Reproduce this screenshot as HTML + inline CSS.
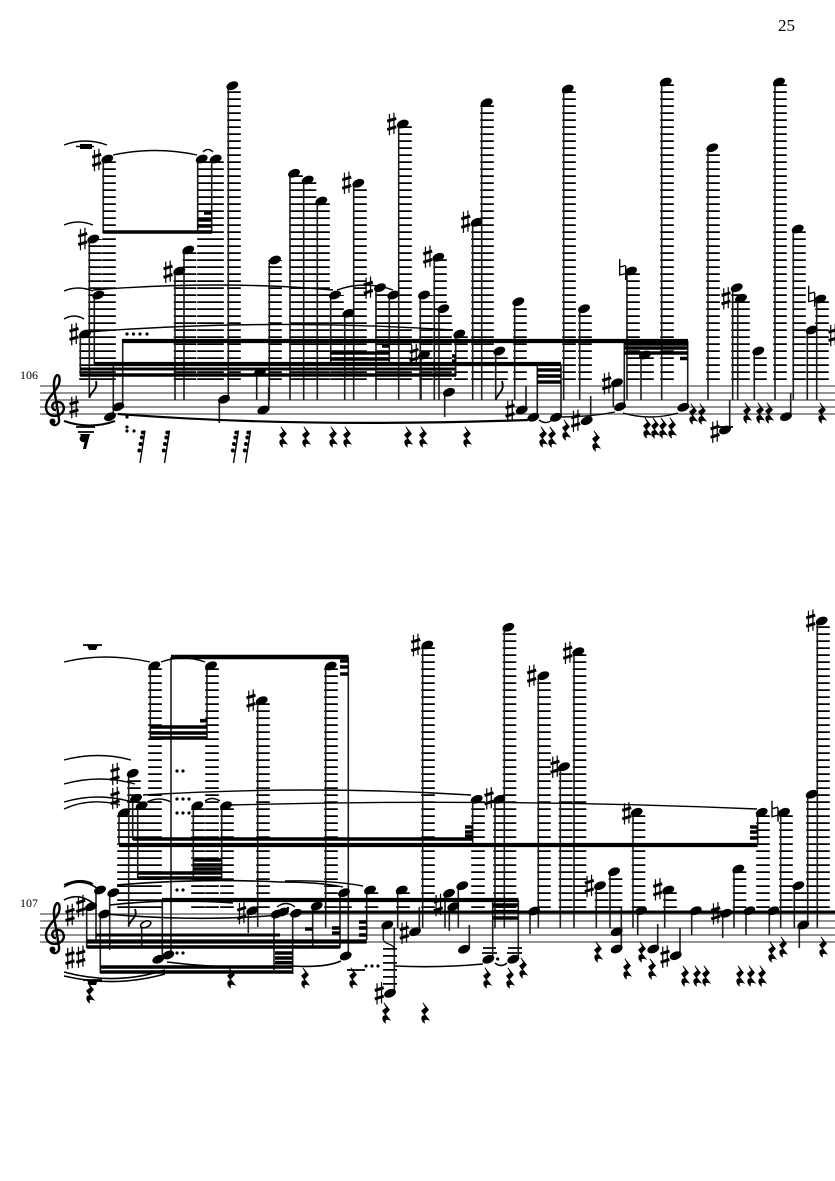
<!DOCTYPE html>
<html><head><meta charset="utf-8"><title>Score page 25</title>
<style>
html,body{margin:0;padding:0;background:#fff}
svg{display:block}
text{font-family:"Liberation Serif",serif;fill:#000}
</style></head><body>
<svg xmlns="http://www.w3.org/2000/svg" width="835" height="1181" viewBox="0 0 835 1181">
<defs>
<ellipse id="n" rx="6.2" ry="4" transform="rotate(-22)"/>
<g id="s" transform="scale(1.12)"><path d="M-2 -9V10M2 -10V9" stroke="#000" stroke-width="1.1" fill="none"/><path d="M-4 -2.5L4 -5M-4 5L4 2.5" stroke="#000" stroke-width="2.7" fill="none"/></g>
<path id="h" d="M-3 -11V5L3 3.5M3 -4V10M-3 -3L3 -4.5" stroke="#000" stroke-width="1.4" fill="none"/>
<path id="r" transform="scale(1.08)" stroke="#000" stroke-width=".7" d="M-2 -9.5L3.2 -3L-.5 1L3.8 6.5C1 5.5 -2 5.5 -.3 9.5C-4 6.5 -4 2 0 2.5L-3.2 -2L.5 -5Z"/>
<g id="f"><path d="M2.5 -16.5L-2.5 16" stroke="#000" stroke-width="1.4"/><circle cx=".3" cy="-14.5" r="2"/><circle cx="-.7" cy="-9.5" r="2"/><circle cx="-2" cy="-3" r="2"/><circle cx="-3.2" cy="3.5" r="2"/></g>
<g id="c"><path d="M1 10C-4 10 -4 3 1 2C8 1 11 8 7 13C2 18 -9 17 -9 7C-9 -3 4 -10 4.5 -19C5 -25 2 -27 0 -22C-2 -17 -1 -10 1 0L4 19C5 26 -3 27 -4 22" fill="none" stroke="#000" stroke-width="2.4"/><circle cx="-2.5" cy="21.5" r="3"/></g>
</defs>
<rect width="835" height="1181" fill="#fff"/>
<text x="778" y="31" font-size="17">25</text>
<text x="20" y="379" font-size="12">106</text>
<text x="20" y="907" font-size="12">107</text>

<!-- staff lines -->
<path d="M40 386H835M40 393H835M40 400H835M40 407H835M40 414H835M40 914H835M40 921H835M40 928H835M40 935H835M40 942H835" stroke="#6e6e6e" stroke-width="1.4" fill="none"/>
<use href="#c" x="55" y="400"/><use href="#c" x="55" y="928"/>

<!-- ledgers system 1 -->
<path fill="none" stroke="#000" stroke-width="13.6" stroke-dasharray="1.7 5.3" d="M109 380V159M204 380V159M217 380V159M234 380V88M95 380V239M100 380V295M86 380V334M180.5 380V271M189.5 380V250M275 380V260M296 380V175M309.5 380V182M323 380V203M337 380V295M351 380V315M360 380V185M382 380V290M395 380V297M405 380V124M426 380V295M440 380V259M445 380V310M461 380V336M478 380V224M487 380V104M501 380V353M520 380V303M569 380V91M585 380V310M633 380V273M647 380V357M667 380V84M713 380V149M738 380V289M743 380V300M760 380V353M780 380V84M799 380V231M813 380V332M822 380V301"/>
<!-- ledgers system 2 -->
<path fill="none" stroke="#000" stroke-width="13.6" stroke-dasharray="1.7 5.3" d="M155 908V667M212 908V667M263 908V703M331 908V668M428 908V647M509.5 908V629M544 908V678M478 908V801M500 908V801M505 908V801M579.5 908V654M565.5 908V769M601.5 908V888M615.5 908V874M638.5 908V815M670 908V892M739.5 908V871M763 908V814M786 908V814M800 908V888M813 908V796M823 908V623M345 908V895M371.5 908V892M403 908V892M124 908V815M134 908V775M142 908V808M198 908V808M212 908V808M227 908V808"/>
<path fill="none" stroke="#000" stroke-width="14" stroke-dasharray="1.7 5.3" d="M390 948V988"/>
<path fill="none" stroke="#000" stroke-width="1.8" d="M76 427H95M78 432H94M83 645H102M347 970H365M483 948H496M508 948H522M718 427H733M83 980H102M482 953H497M507 953H522"/>

<!-- stems -->
<path fill="none" stroke="#1c1c1c" stroke-width="1.6" d="M103.3 159V232M197.7 159V232M211.7 159V232M228.3 86V399M219.3 399V423M89.3 239V398M94.3 295V364M80.3 334V376M122.7 341V407M113.3 364V417M175 271V400M184 250V400M269.3 260V400M268.7 410V387M256.7 372V400M290 173V400M303.7 180V400M317.3 201V400M353.7 183V400M398.7 124V400M481.7 103V400M472.7 222V400M434.3 257V400M439 309V400M420.3 295V400M376 288V400M389.3 295V362M330.7 295V362M344.7 313V400M421 355V400M455.7 334V376M444.7 392V417M495.7 351V400M514.7 302V400M526 410V386M537.3 417V364M561 417V364M563.7 89V400M579.7 309V400M627 271V400M661.7 82V400M641 355V400M613.3 383V407M624.3 407V341M687.7 407V341M708 148V400M732.7 288V400M737.7 298V400M754.3 351V400M775 82V400M793.3 229V400M807.3 330V400M816.7 299V400M590.7 421V396M729.7 430V400M790.7 417V393"/>
<path fill="none" stroke="#1c1c1c" stroke-width="1.6" d="M150.3 666V740M207 666V740M171 657V955M348.3 657V955M257.7 701V927M128.7 773V927M132.7 798V840M137.7 806V878M119 813V845M193.3 806V878M221.7 806V878M96 890V940M109.7 893V950M86.7 907V948M100.3 914V973M141.7 924V947M162.3 959V899M248.3 911V933M274 914V970M292.7 913V974M325.7 666V928M340 893V948M366.7 890V940M397.7 890V928M312.7 906V948M383.3 925V940M394.3 993V928M419.3 932V907M422.7 645V928M504.3 627V928M538.3 676V928M495 799V928M472.7 799V845M445 893V928M458.3 886V928M449.3 907V931M469.3 949V925M492.7 959V900M518.3 959V900M530 911V934M574 652V928M560.3 767V928M596.3 886V928M610 872V928M633 812V928M637.7 911V935M664.7 890V928M621.3 949V907M657.7 949V924M680 956V928M691.7 911V935M722.7 913V938M734 869V928M746 911V935M757.7 812V845M780.7 812V928M769.3 911V935M794.3 886V928M807.7 794V925M799.3 925V948M817.3 621V928"/>

<!-- beams -->
<g fill="none" stroke="#000">
<path stroke-width="3.6" d="M103 232H212M197.7 220H212M197.7 226H212M204 213H212M330.7 353H389.3M330.7 359H389.3M382 346H389.3M452 356H456M452 361H456M537 370H561M537 376H561M537 382H561M624 344H688M624 348H688M624 353H688M680 358.5H688M80 375H456M150 727H207M150 733H207M150 738H207M200 720.7H207M340 661H348M340 667H348M340 674H348M133 839H473M137.7 873H222M137.7 878H222M193 860H222M193 865H222M193 869H222M87 947H340M100 967H292.7M100 972H292.7M275 953H292.7M275 958H292.7M275 962.7H292.7M465 827H472.7M465 832H472.7M465 836H472.7M750 827H757.7M750 832H757.7M750 838H757.7M492.7 905H518M492.7 911.7H518M492.7 918H518M305 929H312.7M332 928H340M332 933H340M359 922H367M359 928H367M359 935H367"/>
<path stroke-width="4.2" d="M122 341H688M94 364H561M119 845H757.7M162 900H518.5M87 941.5H366.7"/>
<path stroke-width="4.6" d="M171 657H348.5"/>
<path stroke-width="3" d="M80 369H455M96 935H280M295 912H835"/>
</g>
<!-- whole/rest blocks -->
<rect x="80" y="144" width="12" height="5"/>
<path d="M76 146.5H94" stroke="#000" stroke-width="1.6"/>
<path d="M87 645H98L96 650H89Z"/>
<path d="M87 980H98L96 985H89Z"/>
<path d="M80 434H90L86 449H83L84.5 442C80 443 78 438 81 436Z"/>

<!-- flags -->
<g fill="none" stroke="#000" stroke-width="1.9">
<path d="M89.3 398C91 391 98 390 96 381"/>
<path d="M495.7 400C498 392 505 392 502 381"/>
<path d="M128.5 926C131 918 138 918 135 909"/>
<path d="M383.5 940C385 945 394 943 394.3 950" stroke-width="1.2"/>
</g>
<!-- hollow note -->
<ellipse cx="145.7" cy="924.3" rx="5.4" ry="3" transform="rotate(-22 145.7 924.3)" fill="#fff" stroke="#000" stroke-width="1.6"/>

<!-- slurs -->
<g fill="none" stroke="#000" stroke-width="1.4">
<path d="M64 145Q85 137 107 145M113 155Q155 146 197 155M203 152Q208 147 213 152M64 225Q78 219 93 225M64 291Q78 285 93 291M93 290Q220 280 333 290M337 290Q365 280 393 290M64 319Q74 313 84 319M87 332Q270 318 453 330"/>
<path stroke-width="2" d="M64 421Q90 430 115 421"/>
<path stroke-width="2.2" d="M118 414Q300 428 528 420"/>
<path d="M539 420Q546 425 552 420M560 417Q590 417 615 412M623 413Q650 421 678 413"/>
<path d="M64 662Q105 652 150 662M161 662Q183 654 205 662M64 760Q98 751 131 760M64 784Q100 774 135 784M64 802Q98 792 132 802M64 809Q90 797 120 805M147 802Q159 796 171 802M205 801Q212 796 220 801"/>
<path d="M143 795Q310 785 471 795M230 805Q500 798 757 809"/>
<path stroke-width="1.6" d="M64 887Q80 877 97 888M64 885Q80 877 93 884M64 900Q78 892 93 903M117 885Q200 878 280 882M110 905Q170 898 233 903M105 914Q200 922 280 915"/>
<path d="M280 882Q320 882 343 887M285 881Q330 880 363 886M277 907Q286 900 295 907"/>
<path stroke-width="1.6" d="M64 972Q115 986 165 970M64 976Q115 988 165 974M167 962Q230 970 293 966M293 966Q325 968 341 961M395 966Q440 968 483 964M495 963Q501 968 507 963"/>
</g>

<!-- note heads system 1 -->
<g>
<use href="#n" x="107.3" y="159"/><use href="#n" x="201.7" y="159"/><use href="#n" x="215.7" y="159"/><use href="#n" x="232.3" y="85.7"/><use href="#n" x="224" y="399.3"/><use href="#n" x="93.3" y="239"/><use href="#n" x="98.3" y="295"/><use href="#n" x="85" y="334"/><use href="#n" x="118.3" y="406.7"/><use href="#n" x="110" y="416.7"/><use href="#n" x="179.3" y="271"/><use href="#n" x="188.3" y="250"/><use href="#n" x="275" y="260"/><use href="#n" x="263.3" y="410"/><use href="#n" x="260" y="372"/><use href="#n" x="294" y="173.3"/><use href="#n" x="307.7" y="180"/><use href="#n" x="321.3" y="201"/><use href="#n" x="358.3" y="183.3"/><use href="#n" x="402.7" y="124"/><use href="#n" x="486.7" y="102.7"/><use href="#n" x="476.7" y="222.3"/><use href="#n" x="438.3" y="257.3"/><use href="#n" x="443.3" y="308.7"/><use href="#n" x="424" y="295"/><use href="#n" x="380" y="287.7"/><use href="#n" x="393.3" y="295"/><use href="#n" x="335" y="295"/><use href="#n" x="348.3" y="313.3"/><use href="#n" x="424" y="355"/><use href="#n" x="459.3" y="334"/><use href="#n" x="449" y="392.3"/><use href="#n" x="499.3" y="351"/><use href="#n" x="518.3" y="301.7"/><use href="#n" x="521.7" y="410"/><use href="#n" x="533.3" y="417.3"/><use href="#n" x="556" y="417.3"/><use href="#n" x="567.7" y="89"/><use href="#n" x="584" y="308.7"/><use href="#n" x="631" y="271"/><use href="#n" x="665.7" y="82"/><use href="#n" x="645" y="355"/><use href="#n" x="617" y="382.7"/><use href="#n" x="620" y="406.7"/><use href="#n" x="683.3" y="407.3"/><use href="#n" x="712.3" y="147.7"/><use href="#n" x="736.7" y="287.7"/><use href="#n" x="741" y="298.3"/><use href="#n" x="758.3" y="351"/><use href="#n" x="779" y="82"/><use href="#n" x="797.7" y="229"/><use href="#n" x="811.7" y="330"/><use href="#n" x="820.3" y="299"/><use href="#n" x="586.7" y="420.7"/><use href="#n" x="725" y="430"/><use href="#n" x="786" y="416.7"/>
<!-- note heads system 2 -->
<use href="#n" x="154.3" y="665.7"/><use href="#n" x="211" y="665.7"/><use href="#n" x="261.7" y="700.7"/><use href="#n" x="132.7" y="773.3"/><use href="#n" x="136" y="798.3"/><use href="#n" x="141.7" y="805.7"/><use href="#n" x="124" y="812.7"/><use href="#n" x="197.3" y="805.7"/><use href="#n" x="226" y="805.7"/><use href="#n" x="100" y="890"/><use href="#n" x="113.3" y="892.7"/><use href="#n" x="91" y="906.7"/><use href="#n" x="104.3" y="914"/><use href="#n" x="158.3" y="959.3"/><use href="#n" x="168.3" y="955"/><use href="#n" x="252.3" y="910.7"/><use href="#n" x="276.7" y="914"/><use href="#n" x="283" y="912"/><use href="#n" x="296" y="913.3"/><use href="#n" x="330.7" y="666"/><use href="#n" x="344" y="892.7"/><use href="#n" x="345.7" y="956"/><use href="#n" x="370" y="890"/><use href="#n" x="401.7" y="890"/><use href="#n" x="316.7" y="906"/><use href="#n" x="387.3" y="925"/><use href="#n" x="390" y="993.3"/><use href="#n" x="415" y="931.7"/><use href="#n" x="427.3" y="645"/><use href="#n" x="508.3" y="627.3"/><use href="#n" x="543.3" y="675.7"/><use href="#n" x="499.3" y="799.3"/><use href="#n" x="476.7" y="799.3"/><use href="#n" x="449" y="893.3"/><use href="#n" x="462.3" y="885.7"/><use href="#n" x="453.3" y="906.7"/><use href="#n" x="464" y="949.3"/><use href="#n" x="488.3" y="959.3"/><use href="#n" x="513.3" y="959.3"/><use href="#n" x="534" y="911"/><use href="#n" x="578.3" y="651.7"/><use href="#n" x="564" y="766.7"/><use href="#n" x="600" y="885.7"/><use href="#n" x="614" y="871.7"/><use href="#n" x="636.7" y="812.3"/><use href="#n" x="641" y="910.7"/><use href="#n" x="668.3" y="890"/><use href="#n" x="616.7" y="931.7"/><use href="#n" x="616.7" y="949"/><use href="#n" x="653.3" y="949"/><use href="#n" x="675.7" y="955.7"/><use href="#n" x="695.7" y="910.7"/><use href="#n" x="726" y="913.3"/><use href="#n" x="738.3" y="869"/><use href="#n" x="749.3" y="910.7"/><use href="#n" x="761.7" y="812.3"/><use href="#n" x="784" y="812.3"/><use href="#n" x="773.3" y="910.7"/><use href="#n" x="798.3" y="885.7"/><use href="#n" x="811.7" y="794.3"/><use href="#n" x="803.3" y="925"/><use href="#n" x="821.7" y="621"/>
</g>

<!-- sharps -->
<g>
<use href="#s" x="74" y="407"/><use href="#s" x="96.7" y="160"/><use href="#s" x="82.7" y="239"/><use href="#s" x="74" y="334"/><use href="#s" x="168" y="271.7"/><use href="#s" x="346.7" y="182.7"/><use href="#s" x="391.7" y="124"/><use href="#s" x="465.7" y="221.7"/><use href="#s" x="427.7" y="256.7"/><use href="#s" x="368.3" y="287.7"/><use href="#s" x="414" y="355"/><use href="#s" x="510" y="410.7"/><use href="#s" x="606.7" y="383.3"/><use href="#s" x="726" y="298.3"/><use href="#s" x="575.7" y="420.7"/><use href="#s" x="715" y="431.7"/><use href="#s" x="833" y="335"/>
<use href="#s" x="70" y="915"/><use href="#s" x="80.7" y="906"/><use href="#s" x="70" y="958"/><use href="#s" x="80.7" y="956.7"/><use href="#s" x="251" y="700.7"/><use href="#s" x="115" y="774"/><use href="#s" x="115" y="798"/><use href="#s" x="241.7" y="913"/><use href="#s" x="379.3" y="993.3"/><use href="#s" x="404.3" y="932.7"/><use href="#s" x="415.7" y="645"/><use href="#s" x="531.7" y="675.7"/><use href="#s" x="489" y="798.3"/><use href="#s" x="438.3" y="905"/><use href="#s" x="567.7" y="652.7"/><use href="#s" x="555" y="766.7"/><use href="#s" x="589.3" y="886"/><use href="#s" x="626.7" y="813.3"/><use href="#s" x="657.7" y="889.3"/><use href="#s" x="665" y="956.7"/><use href="#s" x="715.7" y="913.3"/><use href="#s" x="810.7" y="620.7"/>
<use href="#h" x="622.7" y="270"/><use href="#h" x="811.7" y="296.7"/><use href="#h" x="775" y="811.7"/>
</g>

<!-- rests -->
<g>
<use href="#f" x="142.5" y="447"/><use href="#f" x="167" y="447"/><use href="#f" x="236" y="447"/><use href="#f" x="248" y="447"/>
<use href="#r" x="283" y="437"/><use href="#r" x="306" y="437"/><use href="#r" x="333" y="437"/><use href="#r" x="347" y="437"/><use href="#r" x="408" y="437"/><use href="#r" x="423" y="437"/><use href="#r" x="467" y="437"/><use href="#r" x="543" y="437"/><use href="#r" x="552" y="437"/><use href="#r" x="566" y="430"/><use href="#r" x="596" y="441"/><use href="#r" x="647" y="428"/><use href="#r" x="655" y="428"/><use href="#r" x="663" y="428"/><use href="#r" x="672" y="428"/><use href="#r" x="693" y="414"/><use href="#r" x="702" y="414"/><use href="#r" x="747" y="413"/><use href="#r" x="760" y="413"/><use href="#r" x="769" y="413"/><use href="#r" x="822" y="413"/>
<use href="#r" x="90" y="993"/><use href="#r" x="231" y="978"/><use href="#r" x="305" y="978"/><use href="#r" x="353" y="978"/><use href="#r" x="487" y="978"/><use href="#r" x="510" y="978"/><use href="#r" x="523" y="968"/><use href="#r" x="386" y="1013"/><use href="#r" x="425" y="1013"/><use href="#r" x="598" y="952"/><use href="#r" x="627" y="969"/><use href="#r" x="642" y="952"/><use href="#r" x="652" y="969"/><use href="#r" x="685" y="976"/><use href="#r" x="697" y="976"/><use href="#r" x="706" y="976"/><use href="#r" x="740" y="976"/><use href="#r" x="751" y="976"/><use href="#r" x="762" y="976"/><use href="#r" x="772" y="952"/><use href="#r" x="783" y="947"/><use href="#r" x="823" y="947"/>
</g>

<!-- dots -->
<g>
<circle cx="127" cy="334" r="1.6"/><circle cx="133.5" cy="334" r="1.6"/><circle cx="140" cy="334" r="1.6"/><circle cx="147" cy="334" r="1.6"/><circle cx="127" cy="417" r="1.6"/><circle cx="127" cy="427" r="1.6"/><circle cx="127" cy="431" r="1.6"/><circle cx="134" cy="431" r="1.6"/>
<circle cx="177" cy="771" r="1.6"/><circle cx="183" cy="771" r="1.6"/><circle cx="177" cy="799" r="1.6"/><circle cx="183" cy="799" r="1.6"/><circle cx="189" cy="799" r="1.6"/><circle cx="177" cy="813" r="1.6"/><circle cx="183" cy="813" r="1.6"/><circle cx="189" cy="813" r="1.6"/><circle cx="177" cy="890" r="1.6"/><circle cx="183" cy="890" r="1.6"/><circle cx="177" cy="953" r="1.6"/><circle cx="183" cy="953" r="1.6"/><circle cx="366" cy="966" r="1.6"/><circle cx="372" cy="966" r="1.6"/><circle cx="378" cy="966" r="1.6"/><circle cx="497.7" cy="959" r="1.6"/><circle cx="288" cy="908" r="1.3"/>
</g>
</svg>
</body></html>
